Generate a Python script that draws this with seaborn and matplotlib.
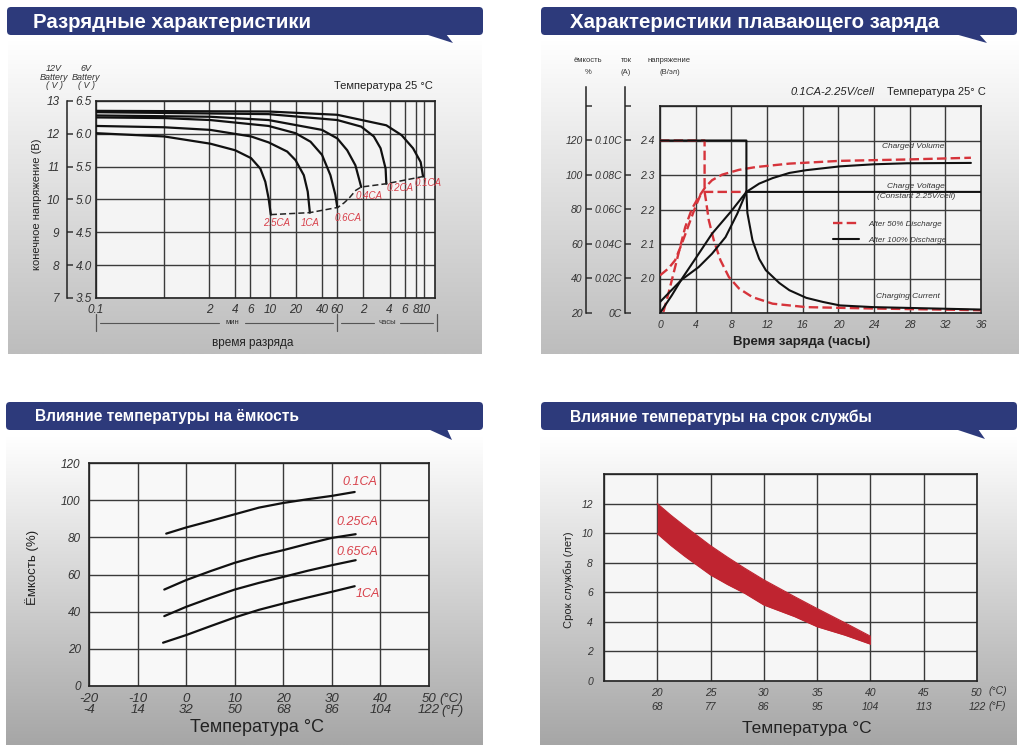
import numpy as np
import pandas as pd
import seaborn as sns
import matplotlib.pyplot as plt
import matplotlib.ticker as mticker
from matplotlib.patches import FancyBboxPatch, Polygon
from matplotlib.colors import LinearSegmentedColormap
from matplotlib.lines import Line2D

sns.set_theme(style="white")
plt.rcParams['font.family'] = ['Liberation Sans', 'DejaVu Sans']

# ---- discharge characteristics: time (min), voltage of the 6V block
rates = ["2.5CA", "1CA", "0.6CA", "0.4CA", "0.2CA", "0.1CA"]
t_25 = [0.1, 0.61, 2.07, 4.0, 6.1, 7.8, 8.9, 9.7, 10.3]
v_25 = [6.01, 5.96, 5.85, 5.75, 5.63, 5.47, 5.27, 5.02, 4.77]
t_1 = [0.1, 0.61, 2.07, 6.1, 9.7, 15.9, 19.8, 24.7, 27.4, 29]
v_1 = [6.12, 6.10, 6.06, 5.96, 5.87, 5.73, 5.60, 5.37, 5.12, 4.80]
t_06 = [0.1, 0.61, 2.07, 9.7, 19.8, 29.5, 40, 50, 57, 60]
v_06 = [6.25, 6.24, 6.21, 6.12, 6.01, 5.88, 5.68, 5.37, 5.07, 4.88]
t_04 = [0.1, 2.07, 9.7, 40, 60, 78, 97, 109, 113]
v_04 = [6.28, 6.26, 6.21, 6.06, 5.93, 5.75, 5.52, 5.27, 5.19]
t_02 = [0.1, 9.7, 60, 113, 158, 189, 216, 220]
v_02 = [6.33, 6.30, 6.21, 6.11, 5.96, 5.78, 5.47, 5.24]
t_01 = [0.1, 9.7, 60, 220, 330, 447, 547, 583]
v_01 = [6.35, 6.34, 6.29, 6.13, 5.98, 5.78, 5.57, 5.35]
end_t = [10.3, 29, 61, 72, 82, 98, 113, 220, 583]
end_v = [4.77, 4.80, 4.88, 4.95, 5.02, 5.14, 5.19, 5.24, 5.35]
dis_ticks = [0.1, 0.6, 2, 4, 6, 10, 20, 40, 60, 120, 240, 360, 480, 600]
dis_tick_labels = ["0.1", "", "2", "4", "6", "10", "20", "40", "60", "2", "4", "6", "8", "10"]
v6_ticks = [3.5, 4.0, 4.5, 5.0, 5.5, 6.0, 6.5]
v12_ticks = [7, 8, 9, 10, 11, 12, 13]

# ---- float charge: time (h), everything on the V/cell scale
cur100_t = [0, 9.69, 9.69, 9.8, 10.37, 11.12, 11.87, 13.38, 14.51, 16.4, 18.28, 20.17, 23.94, 36]
cur100_v = [2.40, 2.40, 2.251, 2.19, 2.111, 2.057, 2.024, 1.987, 1.966, 1.944, 1.932, 1.922, 1.917, 1.910]
vol100_t = [0, 2.45, 4.33, 5.84, 7.35, 8.67, 9.69, 36]
vol100_v = [1.932, 1.997, 2.033, 2.072, 2.120, 2.188, 2.251, 2.251]
cap100_t = [0, 1.32, 2.45, 3.96, 5.84, 7.92, 9.69, 11.12, 12.63, 14.51, 16.4, 20.17, 23.94, 27.7, 34.87]
cap100_v = [1.900, 1.951, 1.999, 2.057, 2.130, 2.193, 2.251, 2.275, 2.291, 2.306, 2.314, 2.325, 2.331, 2.334, 2.335]
cur50_t = [0, 5.0, 5.0, 5.15, 5.47, 6.03, 6.78, 7.73, 8.86, 10.37, 12.63, 16.4, 23.94, 36]
cur50_v = [2.40, 2.40, 2.251, 2.227, 2.169, 2.111, 2.053, 2.004, 1.971, 1.946, 1.927, 1.917, 1.913, 1.908]
vol50_t = [0, 0.94, 1.70, 2.45, 3.2, 3.96, 4.52, 5.0, 9.69]
vol50_v = [2.009, 2.029, 2.053, 2.101, 2.154, 2.207, 2.241, 2.251, 2.251]
cap50_t = [0.38, 0.94, 1.51, 2.07, 2.83, 3.58, 4.33, 5.09, 5.84, 6.97, 8.86, 10.74, 14.51, 20.17, 27.7, 34.87]
cap50_v = [1.903, 1.956, 2.014, 2.072, 2.149, 2.202, 2.236, 2.265, 2.285, 2.301, 2.315, 2.323, 2.333, 2.341, 2.345, 2.350]
hours = [0, 4, 8, 12, 16, 20, 24, 28, 32, 36]
volt_ticks = [1.9, 2.0, 2.1, 2.2, 2.3, 2.4, 2.5]
volt_labels = ["", "2.0", "2.1", "2.2", "2.3", "2.4", ""]
cap_ticks = [20, 40, 60, 80, 100, 120, 140]
cap_labels = ["20", "40", "60", "80", "100", "120", ""]
cur_ticks = [0, 0.02, 0.04, 0.06, 0.08, 0.10, 0.12]
cur_labels = ["0C", "0.02C", "0.04C", "0.06C", "0.08C", "0.10C", ""]

# ---- temperature vs capacity
temp_c = [-20, -10, 0, 10, 20, 30, 40, 50]
temp_f = [-4, 14, 32, 50, 68, 86, 104, 122]
cap_rates = ["0.1CA", "0.25CA", "0.65CA", "1CA"]
tc_01 = [-4.1, 0, 5, 10, 15, 20, 25, 30, 34.7]
cap_01 = [82.0, 85.3, 88.8, 92.4, 96.0, 98.5, 100.5, 102.3, 104.4]
tc_025 = [-4.5, 0, 5, 10, 15, 20, 25, 30, 34.9]
cap_025 = [51.9, 57.0, 61.8, 66.3, 70.0, 73.1, 76.5, 79.7, 81.7]
tc_065 = [-4.5, 0, 5, 10, 15, 20, 25, 30, 34.9]
cap_065 = [37.6, 42.6, 47.4, 51.9, 55.5, 58.7, 62.0, 65.0, 67.7]
tc_1 = [-4.75, 0, 5, 10, 15, 20, 25, 30, 34.7]
cap_1 = [23.3, 27.4, 32.2, 36.9, 41.0, 44.4, 47.6, 50.7, 53.7]

# ---- temperature vs service life
life_c = [15, 20, 25, 30, 35, 40, 45, 50]
life_f = ["", "68", "77", "86", "95", "104", "113", "122"]
life_t = [20, 21.3, 22.6, 25, 26.6, 28.2, 30, 32.9, 35, 37.6, 40]
life_hi = [12.0, 11.2, 10.46, 9.15, 8.37, 7.63, 6.84, 5.7, 4.9, 3.94, 3.03]
life_lo = [9.96, 9.15, 8.42, 7.17, 6.52, 5.93, 5.14, 4.35, 3.67, 3.1, 2.49]
years = [0, 2, 4, 6, 8, 10, 12, 14]

RED = '#d6343b'
LBL_RED = '#d8414b'
NAVY = '#2d3a7b'
GRID = '#3a3a3a'
TXT = '#333333'

W, H = 1024, 752
fig = plt.figure(figsize=(10.24, 7.52), dpi=100)
fig.patch.set_facecolor('white')


def box(x0, y0, x1, y1):
    return [x0 / W, 1 - y1 / H, (x1 - x0) / W, (y1 - y0) / H]


# background panels and title banners
bg = fig.add_axes([0, 0, 1, 1], zorder=-10)
grad = np.linspace(0, 1, 256).reshape(-1, 1)
panels = [(8, 40, 482, 354, '#bdbdbd'), (541, 40, 1019, 354, '#bdbdbd'),
          (6, 436, 483, 745, '#a6a6a6'), (540, 436, 1017, 745, '#a6a6a6')]
for x0, y0, x1, y1, c in panels:
    cm = LinearSegmentedColormap.from_list('g', ['#ffffff', c])
    bg.imshow(grad, extent=(x0, x1, y1, y0), cmap=cm, aspect='auto')
banners = [
    ("Разрядные характеристики", 7, 7, 483, 35, [(425, 34), (446, 34), (453, 43)], 33, 14.7),
    ("Характеристики плавающего заряда", 541, 7, 1017, 35, [(955, 34), (979, 34), (987, 43)], 570, 14.7),
    ("Влияние температуры на ёмкость", 6, 402, 483, 430, [(428, 429), (447, 429), (452, 440)], 35, 11.2),
    ("Влияние температуры на срок службы", 541, 402, 1017, 430, [(955, 429), (978, 429), (985, 439)], 570, 11.2),
]
for title, x0, y0, x1, y1, tail, tx, fs in banners:
    bg.add_patch(FancyBboxPatch((x0, y0), x1 - x0, y1 - y0,
                                boxstyle="round,pad=0,rounding_size=4", fc=NAVY, ec='none'))
    bg.add_patch(Polygon(tail, closed=True, fc=NAVY, ec='none'))
    bg.text(tx, (y0 + y1) / 2 + 1, title, color='white', fontsize=fs,
            fontweight='bold', va='center', ha='left')
bg.set_xlim(0, W)
bg.set_ylim(H, 0)
bg.axis('off')


def style_axes(ax, fs, face='#f4f4f4'):
    ax.set_facecolor(face)
    ax.grid(True, color=GRID, lw=1.0)
    ax.set_axisbelow(True)
    for s in ax.spines.values():
        s.set_color('#222222')
        s.set_linewidth(1.2)
        s.set_visible(True)
    ax.tick_params(length=0, labelsize=fs, colors=TXT)
    for lb in ax.get_xticklabels() + ax.get_yticklabels():
        lb.set_fontstyle('italic')
    ax.set_xlabel('')
    ax.set_ylabel('')


def side_axis(rect, lim, ticks, labels, fs, pad):
    a = fig.add_axes(rect)
    a.set_facecolor('none')
    a.set_ylim(*lim)
    a.set_yticks(ticks)
    a.set_yticklabels(labels)
    a.set_xticks([])
    for k in ['top', 'right', 'bottom']:
        a.spines[k].set_visible(False)
    a.spines['left'].set_color('#222222')
    a.spines['left'].set_linewidth(1.1)
    a.tick_params(axis='y', direction='in', length=4.5, width=1.1,
                  pad=pad, labelsize=fs, colors=TXT, left=True)
    for lb in a.get_yticklabels():
        lb.set_fontstyle('italic')
    return a


def curve(ax, x, y, color='#111111', lw=1.6, ls='-', z=3):
    sns.lineplot(x=x, y=y, ax=ax, color=color, lw=lw, linestyle=ls,
                 estimator=None, sort=False, zorder=z)


# ---------------- panel 1: discharge
ax1 = fig.add_axes(box(96, 101, 435, 298))
ax1.set_xscale('log')
for t, v in zip([t_25, t_1, t_06, t_04, t_02, t_01], [v_25, v_1, v_06, v_04, v_02, v_01]):
    curve(ax1, t, v)
curve(ax1, end_t, end_v, color='#222222', lw=1.1, ls=(0, (4, 2)))
ax1.set_xlim(0.1, 800)
ax1.set_ylim(3.5, 6.5)
ax1.set_xticks(dis_ticks)
ax1.set_xticklabels(dis_tick_labels)
ax1.xaxis.set_minor_locator(mticker.NullLocator())
ax1.set_yticks(v6_ticks)
ax1.set_yticklabels([f"{v:.1f}" for v in v6_ticks])
style_axes(ax1, 8.5)
ax1.tick_params(axis='y', pad=3)
ax1.tick_params(axis='x', pad=4)
rate_pos = [(12, 4.64), (29, 4.64), (80, 4.72), (140, 5.05), (318, 5.18), (671, 5.25)]
for r, (x, y) in zip(rates, rate_pos):
    ax1.text(x, y, r, color=LBL_RED, fontsize=7, fontstyle='italic', ha='center', va='center')
side_axis(box(67, 101, 68, 298), (7, 13), v12_ticks, [str(v) for v in v12_ticks], 8.5, 5.5)

# ---------------- panel 2: float charge
ax2 = fig.add_axes(box(660, 106, 981, 313))
dash = (0, (4, 1.8))
for t, v in [(cur50_t, cur50_v), (vol50_t, vol50_v), (cap50_t, cap50_v)]:
    curve(ax2, t, v, color=RED, lw=1.7, ls=dash, z=3)
for t, v in [(cur100_t, cur100_v), (vol100_t, vol100_v), (cap100_t, cap100_v)]:
    curve(ax2, t, v, color='#111111', lw=1.5, z=4)
ax2.set_xlim(0, 36)
ax2.set_ylim(1.9, 2.5)
ax2.set_xticks(hours)
ax2.set_xticklabels([str(h) for h in hours])
ax2.set_yticks(volt_ticks)
ax2.set_yticklabels(volt_labels)
style_axes(ax2, 7.5)
ax2.tick_params(axis='y', pad=4)
ax2.tick_params(axis='x', pad=5)
side_axis(box(586, 87, 587, 313), (20, 151), cap_ticks, cap_labels, 7.5, 2.5)
side_axis(box(625, 87, 626, 313), (0, 0.131), cur_ticks, cur_labels, 7.5, 2)
ax2.legend(handles=[Line2D([], [], color=RED, lw=1.7, ls=dash),
                    Line2D([], [], color='#111111', lw=1.5)],
           labels=["After 50% Discharge", "After 100% Discharge"],
           loc='upper left', bbox_to_anchor=(826 / W, 1 - 213 / H), bbox_transform=fig.transFigure,
           frameon=False, handlelength=3.2, handletextpad=1.2, labelspacing=1.0,
           prop={'size': 5.8, 'style': 'italic'}, labelcolor=TXT)

# ---------------- panel 3: temperature vs capacity
ax3 = fig.add_axes(box(89, 463, 429, 686))
for t, c in zip([tc_01, tc_025, tc_065, tc_1], [cap_01, cap_025, cap_065, cap_1]):
    curve(ax3, t, c)
ax3.set_xlim(-20, 50)
ax3.set_ylim(0, 120)
ax3.set_xticks(temp_c)
ax3.set_xticklabels([f"{c}\n{f}" for c, f in zip(temp_c, temp_f)])
ax3.set_yticks([0, 20, 40, 60, 80, 100, 120])
style_axes(ax3, 9.5, face='#f8f8f8')
ax3.tick_params(axis='y', labelsize=8.5, pad=6)
ax3.tick_params(axis='x', pad=5)
for lb in ax3.get_xticklabels():
    lb.set_linespacing(0.95)
cap_pos = [(35.8, 110), (35.2, 88.3), (35.2, 72.1), (37.4, 49.5)]
for r, (x, y) in zip(cap_rates, cap_pos):
    ax3.text(x, y, r, color=LBL_RED, fontsize=9, fontstyle='italic', ha='center', va='center')

# ---------------- panel 4: temperature vs service life
ax4 = fig.add_axes(box(604, 474, 977, 681))
ax4.fill_between(life_t, life_lo, life_hi, color='#bf2430', lw=0, zorder=3)
curve(ax4, life_t, life_hi, color='#bf2430', lw=0.8)
curve(ax4, life_t, life_lo, color='#bf2430', lw=0.8)
ax4.set_xlim(15, 50)
ax4.set_ylim(0, 14)
ax4.set_xticks(life_c)
ax4.set_xticklabels([("" if f == "" else f"{c}\n{f}") for c, f in zip(life_c, life_f)])
ax4.set_yticks(years)
ax4.set_yticklabels([str(y) if y < 14 else "" for y in years])
style_axes(ax4, 7.5, face='#f6f6f6')
ax4.tick_params(axis='y', pad=8)
ax4.tick_params(axis='x', pad=5)
for lb in ax4.get_xticklabels():
    lb.set_linespacing(1.5)

# ---------------- free texts
ov = fig.add_axes([0, 0, 1, 1], zorder=10)
ov.set_xlim(0, W)
ov.set_ylim(H, 0)
ov.axis('off')
ov.text(54, 77, "12V\nBattery\n( V )", fontsize=6.5, fontstyle='italic', color=TXT,
        ha='center', va='center', linespacing=0.95)
ov.text(86, 77, "6V\nBattery\n( V )", fontsize=6.5, fontstyle='italic', color=TXT,
        ha='center', va='center', linespacing=0.95)
ov.text(433, 86, "Температура 25 °C", fontsize=8, color='#222222', ha='right', va='center')
ov.text(37, 204, "конечное напряжение (В)", fontsize=8, color='#222222', rotation=90,
        ha='center', va='center')
for xs in [96, 337, 437]:
    ov.plot([xs, xs], [314, 331], color='#555555', lw=0.9)
for xa, xb in [(100, 219), (245, 333), (341, 374), (400, 433)]:
    ov.plot([xa, xb], [323, 323], color='#555555', lw=0.8)
ov.text(232, 323, "мин", fontsize=5.5, color=TXT, ha='center', va='center')
ov.text(387, 323, "часы", fontsize=5.5, color=TXT, ha='center', va='center')
ov.text(253, 343, "время разряда", fontsize=8.5, color='#222222', ha='center', va='center')

for x, a, b in [(588, "ёмкость", "%"), (626, "ток", "(A)"), (669, "напряжение", "(В/эл)")]:
    ov.text(x, 60, a, fontsize=5.5, color=TXT, ha='center', va='center')
    ov.text(x + (1 if b == "(В/эл)" else 0), 72, b, fontsize=5.5, color=TXT, ha='center', va='center')
ov.text(791, 92, "0.1CA-2.25V/cell", fontsize=8, fontstyle='italic', color='#222222', va='center')
ov.text(887, 92, "Температура 25° C", fontsize=8, color='#222222', va='center')
ov.text(913, 147, "Charged Volume", fontsize=6, fontstyle='italic', color=TXT, ha='center', va='center')
ov.text(916, 187, "Charge Voltage", fontsize=6, fontstyle='italic', color=TXT, ha='center', va='center')
ov.text(916, 197, "(Constant 2.25V/cell)", fontsize=6, fontstyle='italic', color=TXT, ha='center', va='center')
ov.text(908, 297, "Charging Current", fontsize=6, fontstyle='italic', color=TXT, ha='center', va='center')
ov.text(802, 342, "Время заряда (часы)", fontsize=9.5, fontweight='bold', color='#222222',
        ha='center', va='center')

ov.text(32, 567, "Ёмкость (%)", fontsize=9.5, color='#222222', rotation=90, ha='center', va='center')
ov.text(257, 727, "Температура °C", fontsize=13, color='#222222', ha='center', va='center')
ov.text(439, 699, "(°C)", fontsize=9.5, fontstyle='italic', color=TXT, va='center')
ov.text(441, 711, "(°F)", fontsize=9.5, fontstyle='italic', color=TXT, va='center')

ov.text(569, 580, "Срок службы (лет)", fontsize=8, color='#222222', rotation=90, ha='center', va='center')
ov.text(807, 728, "Температура °C", fontsize=12.5, color='#222222', ha='center', va='center')
ov.text(989, 691, "(°C)", fontsize=7.5, fontstyle='italic', color=TXT, va='center')
ov.text(989, 706, "(°F)", fontsize=7.5, fontstyle='italic', color=TXT, va='center')

fig.savefig("out.png", dpi=100)
